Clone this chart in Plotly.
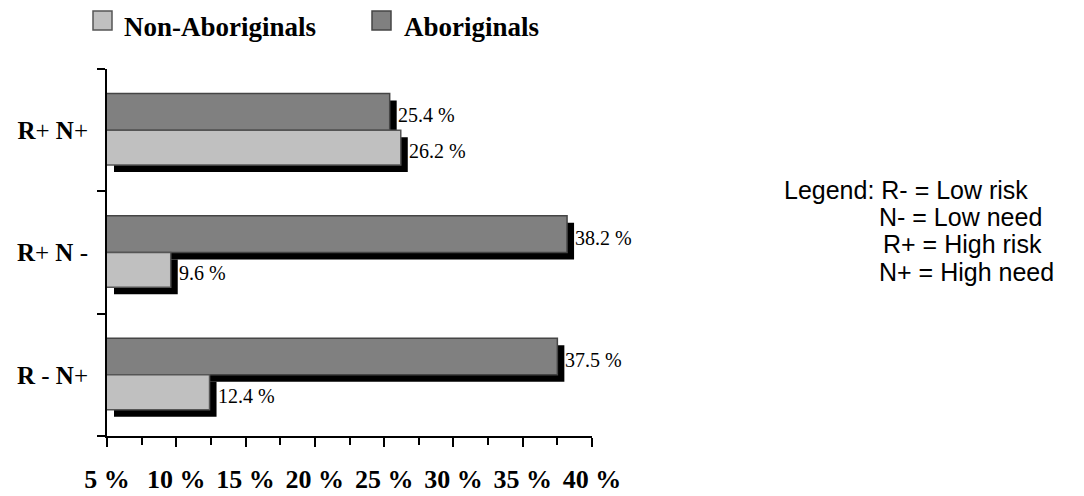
import plotly.graph_objects as go

# Risk/need groups, listed bottom to top
categories = ["R - N+", "R+ N -", "R+ N+"]
category_labels = ["<b>R</b> - <b>N</b>+", "<b>R</b>+ <b>N</b> -", "<b>R</b>+ <b>N</b>+"]

# Percentages per group
aboriginals = [37.5, 38.2, 25.4]
non_aboriginals = [12.4, 9.6, 26.2]

series_names = ["Non-Aboriginals", "Aboriginals"]
x_ticks = [5, 10, 15, 20, 25, 30, 35, 40]

# Styling
W, H = 1084, 496
L, R, T, B = 107, 492, 69, 60
X_MIN, X_MAX = 5, 40
AB_FILL, AB_LINE = "#808080", "#454545"
NA_FILL, NA_LINE = "#c0c0c0", "#555555"
BAR_W_AB, BAR_W_NA = 0.30, 0.285
PLOT_W = W - L - R
PLOT_H = H - T - B
PX_PER_X = PLOT_W / (X_MAX - X_MIN)
PX_PER_Y = PLOT_H / 3
SHADOW_DX = 7 / PX_PER_X       # drop shadow offset, data units
SHADOW_DY = 7 / PX_PER_Y       # drop shadow offset, category units
SERIF = "Liberation Serif, Times New Roman, serif"
SANS = "Liberation Sans, Arial, sans-serif"


def px_x(p):
    return (p - L) / PLOT_W


def px_y(p):
    return (H - B - p) / PLOT_H


fig = go.Figure()

# Drop shadows (drawn first so they sit behind the bars)
for vals, off, w in ((aboriginals, 0.0, BAR_W_AB), (non_aboriginals, -BAR_W_NA, BAR_W_NA)):
    fig.add_trace(go.Bar(
        orientation="h", y=categories,
        x=[v - X_MIN for v in vals], base=X_MIN + SHADOW_DX,
        offset=off - SHADOW_DY, width=w,
        marker=dict(color="black", line=dict(width=0)),
        showlegend=False, hoverinfo="skip",
    ))

# Front faces
fig.add_trace(go.Bar(
    orientation="h", y=categories, x=aboriginals, name=series_names[1],
    offset=0.0, width=BAR_W_AB,
    marker=dict(color=AB_FILL, line=dict(color=AB_LINE, width=1.5)),
    showlegend=False,
))
fig.add_trace(go.Bar(
    orientation="h", y=categories, x=non_aboriginals, name=series_names[0],
    offset=-BAR_W_NA, width=BAR_W_NA,
    marker=dict(color=NA_FILL, line=dict(color=NA_LINE, width=1.5)),
    showlegend=False,
))

annotations = []
# Value labels next to each bar's shadow
for i, cat in enumerate(categories):
    for vals, center in ((aboriginals, (BAR_W_AB - SHADOW_DY) / 2),
                         (non_aboriginals, (-BAR_W_NA - SHADOW_DY) / 2)):
        annotations.append(dict(
            x=vals[i], y=i + center, xref="x", yref="y",
            text=f"{vals[i]} %", showarrow=False, xanchor="left", yanchor="middle",
            xshift=6, font=dict(family=SERIF, size=20, color="black"),
        ))

# Series key along the top
shapes = []
for name, fill, line, sx, tx in ((series_names[0], NA_FILL, NA_LINE, 93, 122),
                                 (series_names[1], AB_FILL, AB_LINE, 372, 402)):
    shapes.append(dict(
        type="rect", xref="paper", yref="paper",
        x0=px_x(sx), x1=px_x(sx + 19), y0=px_y(30), y1=px_y(11),
        fillcolor=fill, line=dict(color=line, width=1.5),
    ))
    annotations.append(dict(
        x=px_x(tx), y=px_y(27), xref="paper", yref="paper",
        text=f"<b>{name}</b>", showarrow=False, xanchor="left", yanchor="middle",
        font=dict(family=SERIF, size=27, color="black"),
    ))

# Abbreviation key on the right
key_lines = [("Legend: R- = Low risk", 782, 190),
             ("N- = Low need", 877, 217),
             ("R+ = High risk", 881, 244),
             ("N+ = High need", 877, 272)]
for text, kx, ky in key_lines:
    annotations.append(dict(
        x=px_x(kx), y=px_y(ky), xref="paper", yref="paper",
        text=text, showarrow=False, xanchor="left", yanchor="middle",
        font=dict(family=SANS, size=25, color="black"),
    ))

fig.update_layout(
    width=W, height=H,
    margin=dict(l=L, r=R, t=T, b=B, pad=0, autoexpand=False),
    barmode="overlay",
    paper_bgcolor="white", plot_bgcolor="white",
    showlegend=False,
    annotations=annotations, shapes=shapes,
)

fig.update_xaxes(
    range=[X_MIN, X_MAX], tickmode="array", tickvals=x_ticks,
    ticktext=[f"{t} %" for t in x_ticks],
    ticks="outside", ticklen=9, tickwidth=2, tickcolor="black",
    minor=dict(dtick=2.5, tick0=X_MIN, ticks="outside", ticklen=7, tickwidth=2,
               tickcolor="black", showgrid=False),
    showline=True, linewidth=2, linecolor="black",
    showgrid=False, zeroline=False, automargin=False,
    tickfont=dict(family=SERIF, size=26, color="black", weight="bold"),
    ticklabelstandoff=10,
)

fig.update_yaxes(
    type="category", categoryorder="array", categoryarray=categories,
    range=[-0.5, 2.5], tickmode="array", tickvals=categories, ticktext=category_labels,
    tickson="boundaries", ticks="outside", ticklen=8, tickwidth=2, tickcolor="black",
    showline=True, linewidth=2, linecolor="black",
    showgrid=False, zeroline=False, automargin=False,
    tickfont=dict(family=SERIF, size=25, color="black"),
    ticklabelstandoff=12,
)

fig.write_html("out.html")
